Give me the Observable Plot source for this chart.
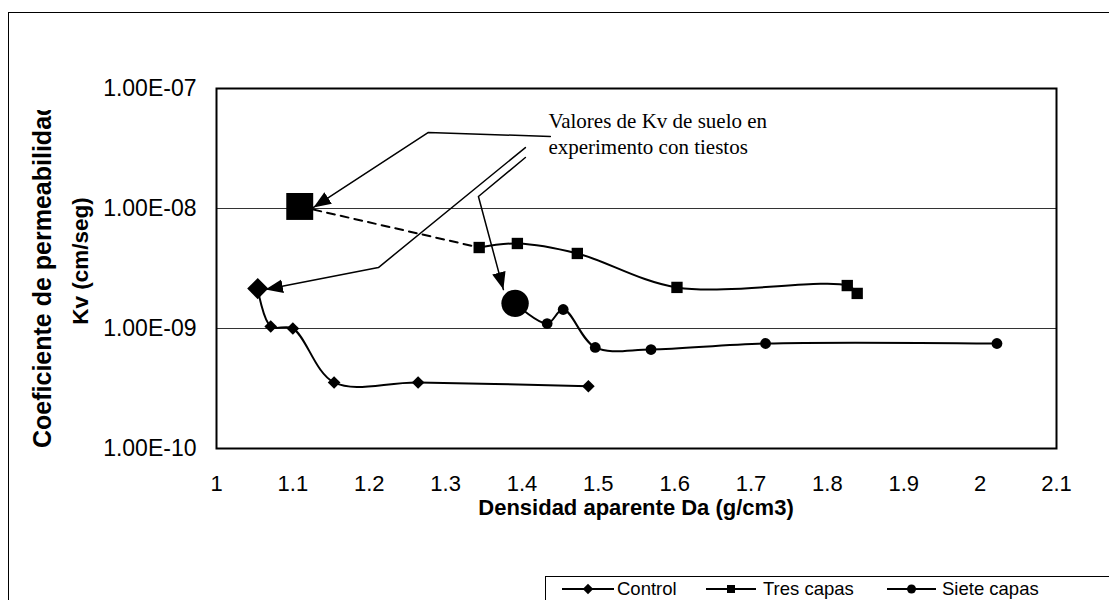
<!DOCTYPE html>
<html><head><meta charset="utf-8">
<script src="https://cdn.jsdelivr.net/npm/d3@7"></script>
<script src="https://cdn.jsdelivr.net/npm/@observablehq/plot@0.6"></script>
<style>
body{margin:0;background:#fff;}
svg g[aria-label^="x-axis"] text{font-size:22px;font-family:"Liberation Sans",Arial,sans-serif;fill:#000;}
svg g[aria-label^="y-axis"] text{font-size:23px;font-family:"Liberation Sans",Arial,sans-serif;fill:#000;}
</style></head><body>
<script>
// ---- data ----
const seriesNames = ["Control", "Tres capas", "Siete capas"];
// pot-experiment values (large markers), one per series
const potX  = [1.054, 1.109, 1.391];
const potKv = [2.15e-9, 1.04e-8, 1.62e-9];
// Control
const controlX  = [1.071, 1.100, 1.154, 1.264, 1.487];
const controlKv = [1.04e-9, 1.0e-9, 3.55e-10, 3.55e-10, 3.3e-10];
// Tres capas
const tresX  = [1.344, 1.394, 1.4725, 1.603, 1.826, 1.839];
const tresKv = [4.73e-9, 5.11e-9, 4.22e-9, 2.2e-9, 2.28e-9, 1.96e-9];
// Siete capas
const sieteX  = [1.433, 1.454, 1.496, 1.569, 1.719, 2.022];
const sieteKv = [1.10e-9, 1.44e-9, 6.95e-10, 6.68e-10, 7.5e-10, 7.5e-10];
// axes
const xTicks = [1, 1.1, 1.2, 1.3, 1.4, 1.5, 1.6, 1.7, 1.8, 1.9, 2, 2.1];
const xTickLabels = ["1","1.1","1.2","1.3","1.4","1.5","1.6","1.7","1.8","1.9","2","2.1"];
const yTicks = [1e-10, 1e-9, 1e-8, 1e-7];
const yTickLabels = ["1.00E-10","1.00E-09","1.00E-08","1.00E-07"];
const yGrid = [1e-8, 1e-9];
const xTitle = "Densidad aparente Da (g/cm3)";
const yTitle1 = "Coeficiente de permeabilidad";
const yTitle2 = "Kv (cm/seg)";
// annotation (data coordinates)
const noteText = "Valores de Kv de suelo en\nexperimento con tiestos";
const noteX = 1.4346, noteKv = 6.7e-8;
const leader1X = [1.4372, 1.2775, 1.127],  leader1Kv = [3.98e-8, 4.30e-8, 1.02e-8];
const leader2X = [1.4045, 1.212, 1.0641],  leader2Kv = [3.22e-8, 3.22e-9, 2.11e-9];
const leader3X = [1.4045, 1.343, 1.3757],  leader3Kv = [2.66e-8, 1.26e-8, 2.11e-9];

// ---- build tables ----
const pts = (xs, ys) => xs.map((x, i) => ({x, y: ys[i]}));
const controlLine = pts([potX[0], ...controlX], [potKv[0], ...controlKv]);
const sieteLine = pts([potX[2], ...sieteX], [potKv[2], ...sieteKv]);
const tresLine = pts(tresX, tresKv);
const tresDash = pts([potX[1], tresX[0]], [potKv[1], tresKv[0]]);
const potPts = pts(potX, potKv);
const leaders = [[leader1X, leader1Kv], [leader2X, leader2Kv], [leader3X, leader3Kv]]
  .flatMap(([xs, ys], k) => xs.map((x, i) => ({id: k, x, y: ys[i]})));

const fmtX = d => xTickLabels[xTicks.findIndex(t => Math.abs(t - d) < 1e-9)];
const fmtY = d => yTickLabels[yTicks.findIndex(t => Math.abs(Math.log10(t) - Math.log10(d)) < 1e-6)];

const LEADER = "#010101";
const chart = Plot.plot({
  width: 1109, height: 600,
  marginLeft: 216, marginRight: 53, marginTop: 88, marginBottom: 152,
  style: {fontFamily: "'Liberation Sans', Arial, sans-serif", background: "white", color: "black"},
  x: {domain: [1, 2.1], ticks: xTicks, tickFormat: fmtX, tickSize: 0, tickPadding: 27, label: null},
  y: {type: "log", domain: [1e-10, 1e-7], ticks: yTicks, tickFormat: fmtY, tickSize: 0, tickPadding: 20, label: null},
  marks: [
    Plot.ruleY(yGrid, {stroke: "#333", strokeWidth: 1}),
    Plot.line(controlLine, {x: "x", y: "y", curve: "catmull-rom", stroke: "black", strokeWidth: 2}),
    Plot.line(tresLine, {x: "x", y: "y", curve: "catmull-rom", stroke: "black", strokeWidth: 2}),
    Plot.line(tresDash, {x: "x", y: "y", stroke: "black", strokeWidth: 2, strokeDasharray: "8,6"}),
    Plot.line(sieteLine, {x: "x", y: "y", curve: "catmull-rom", stroke: "black", strokeWidth: 2}),
    Plot.dot(pts(controlX, controlKv), {x: "x", y: "y", symbol: "diamond2", r: 5.7, fill: "black", stroke: null}),
    Plot.dot(pts(tresX, tresKv), {x: "x", y: "y", symbol: "square", r: 6.4, fill: "black", stroke: null}),
    Plot.dot(pts(sieteX, sieteKv), {x: "x", y: "y", symbol: "circle", r: 5.4, fill: "black", stroke: null}),
    Plot.dot([potPts[0]], {x: "x", y: "y", symbol: "diamond2", r: 9.5, fill: "black", stroke: null}),
    Plot.dot([potPts[1]], {x: "x", y: "y", symbol: "square", r: 15.2, fill: "black", stroke: null}),
    Plot.dot([potPts[2]], {x: "x", y: "y", symbol: "circle", r: 13.7, fill: "black", stroke: null}),
    Plot.line(leaders, {x: "x", y: "y", z: "id", stroke: LEADER, strokeWidth: 1.5}),
    Plot.text([noteText], {x: () => noteX, y: () => noteKv, text: d => d, textAnchor: "start", lineAnchor: "top",
      fontFamily: "'Liberation Serif', 'Times New Roman', serif", fontSize: 21, lineHeight: 1.25, fill: "black"}),
    Plot.frame({stroke: "black", strokeWidth: 2})
  ]
});
document.body.append(chart);

// ---- decorations: arrowheads, titles, legend, outer border ----
const svg = d3.select(chart);
const defs = svg.append("defs");
defs.append("marker").attr("id", "ahead").attr("markerUnits", "userSpaceOnUse")
  .attr("markerWidth", 20).attr("markerHeight", 20).attr("refX", 14).attr("refY", 0)
  .attr("viewBox", "0 -8 16 16").attr("orient", "auto")
  .append("path").attr("d", "M0,-5.5L14,0L0,5.5Z").attr("fill", "black");
svg.selectAll("path").filter(function () {
  const g = this.parentNode;
  return (this.getAttribute("stroke") === LEADER) || (g && g.getAttribute && g.getAttribute("stroke") === LEADER);
}).attr("marker-end", "url(#ahead)");

svg.append("rect").attr("x", 8.5).attr("y", 12.5).attr("width", 1200).attr("height", 700)
  .attr("fill", "none").attr("stroke", "black").attr("stroke-width", 1);

svg.append("text").attr("x", 636).attr("y", 515).attr("text-anchor", "middle")
  .attr("font-size", 22).attr("font-weight", "bold").attr("fill", "black").text(xTitle);

defs.append("clipPath").attr("id", "yclip").append("rect").attr("x", 0).attr("y", 110).attr("width", 200).attr("height", 400);
const yt = svg.append("g").attr("clip-path", "url(#yclip)");
yt.append("text").attr("transform", "translate(51,448) rotate(-90)").attr("text-anchor", "start")
  .attr("font-size", 25).attr("font-weight", "bold").attr("fill", "black").text(yTitle1);
svg.append("text").attr("transform", "translate(88,261) rotate(-90)").attr("text-anchor", "middle")
  .attr("font-size", 22.5).attr("font-weight", "bold").attr("fill", "black").text(yTitle2);

// legend
const lg = svg.append("g").attr("text-anchor", "start");
lg.append("rect").attr("x", 545.5).attr("y", 576.5).attr("width", 700).attr("height", 60)
  .attr("fill", "white").attr("stroke", "black").attr("stroke-width", 1);
const legendItems = [
  {name: seriesNames[0], x0: 562, x1: 614, tx: 617, sym: d3.symbolDiamond2, size: 70},
  {name: seriesNames[1], x0: 706, x1: 756, tx: 763, sym: d3.symbolSquare, size: 64},
  {name: seriesNames[2], x0: 887, x1: 936, tx: 942, sym: d3.symbolCircle, size: 64}
];
for (const it of legendItems) {
  lg.append("line").attr("x1", it.x0).attr("x2", it.x1).attr("y1", 589).attr("y2", 589)
    .attr("stroke", "black").attr("stroke-width", 2);
  lg.append("path").attr("d", d3.symbol(it.sym, it.size)())
    .attr("transform", `translate(${(it.x0 + it.x1) / 2},589)`).attr("fill", "black");
  lg.append("text").attr("x", it.tx).attr("y", 589).attr("dy", "0.35em").attr("text-anchor", "start")
    .attr("font-size", 18.5).attr("fill", "black").text(it.name);
}
</script>
</body></html>
